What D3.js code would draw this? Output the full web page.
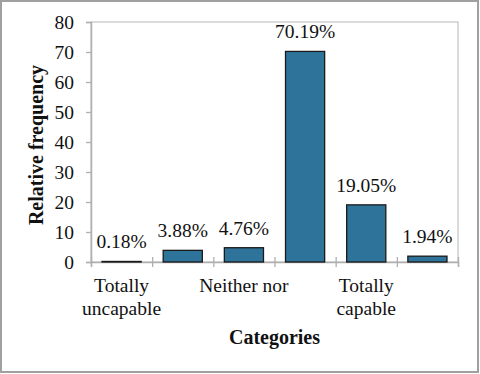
<!DOCTYPE html>
<html><head><meta charset="utf-8">
<script src="https://cdn.jsdelivr.net/npm/d3@7"></script>
<style>body{margin:0;background:#fff}svg{display:block}text{font-family:"Liberation Serif","Times New Roman",Tinos,serif}</style>
</head><body>
<script>
const categories = ["c1","c2","c3","c4","c5","c6"];
const values = [0.18, 3.88, 4.76, 70.19, 19.05, 1.94];
const valueLabels = ["0.18%","3.88%","4.76%","70.19%","19.05%","1.94%"];
const catLabels = [["Totally","uncapable"],[],["Neither nor"],[],["Totally","capable"],[]];
const yTicks = [0,10,20,30,40,50,60,70,80];

const W=480,H=374;
const m={l:91,t:22,r:458,b:262};
const svg=d3.select("body").append("svg").attr("width",W).attr("height",H);
const FS=19.5;
svg.append("rect").attr("x",1).attr("y",1).attr("width",477).attr("height",371)
  .attr("fill","#fff").attr("stroke","#a0a0a0").attr("stroke-width",2);

const x=d3.scaleBand().domain(categories).range([m.l,m.r]).paddingInner(0.36).paddingOuter(0.18);
const xb=d3.scaleLinear().domain([0,categories.length]).range([m.l,m.r]);
const y=d3.scaleLinear().domain([0,80]).range([m.b,m.t]);

svg.append("rect").attr("x",m.l).attr("y",m.t).attr("width",m.r-m.l).attr("height",m.b-m.t)
  .attr("fill","none").attr("stroke","#c8c8c8").attr("stroke-width",1.3);

const ya=svg.append("g").attr("transform",`translate(${m.l},0)`)
  .call(d3.axisLeft(y).tickValues(yTicks).tickSize(5).tickPadding(12));
ya.attr("font-family",null).attr("font-size",null);
ya.select(".domain").attr("stroke","#b0b0b0").attr("stroke-width",1.5);
ya.selectAll(".tick line").attr("stroke","#b0b0b0").attr("stroke-width",1.3);
ya.selectAll("text").style("font-size",FS+"px").attr("fill","#111");

const xa=svg.append("g").attr("transform",`translate(0,${m.b})`)
  .call(d3.axisBottom(xb).tickValues(d3.range(0,categories.length+1)).tickSize(5).tickFormat(""));
xa.select(".domain").attr("stroke","#b0b0b0").attr("stroke-width",1.5);
xa.selectAll(".tick line").attr("stroke","#b0b0b0").attr("stroke-width",1.3).attr("y1",-5);

svg.selectAll("rect.bar").data(values).enter().append("rect").attr("class","bar")
  .attr("x",(d,i)=>x(categories[i])).attr("width",x.bandwidth())
  .attr("y",d=>y(d)).attr("height",d=>y(0)-y(d))
  .attr("fill","#2e7399").attr("stroke","#1a1a1a").attr("stroke-width",1.3);

svg.selectAll("text.val").data(values).enter().append("text").attr("class","val")
  .attr("x",(d,i)=>x(categories[i])+x.bandwidth()/2).attr("y",d=>y(d)-13)
  .attr("text-anchor","middle").style("font-size",FS+"px").attr("fill","#111")
  .text((d,i)=>valueLabels[i]);

catLabels.forEach((lines,i)=>{
  lines.forEach((t,j)=>{
    svg.append("text").attr("x",x(categories[i])+x.bandwidth()/2).attr("y",292+j*23)
      .attr("text-anchor","middle").style("font-size",FS+"px").attr("fill","#111").text(t);
  });
});

svg.append("text").attr("x",(m.l+m.r)/2).attr("y",344).attr("text-anchor","middle")
  .style("font-size","20px").attr("font-weight","bold").attr("fill","#111").text("Categories");
svg.append("text").attr("transform",`translate(43,${(m.t+m.b)/2+3}) rotate(-90)`).attr("text-anchor","middle")
  .style("font-size","20px").attr("font-weight","bold").attr("fill","#111").text("Relative frequency");
</script>
</body></html>
